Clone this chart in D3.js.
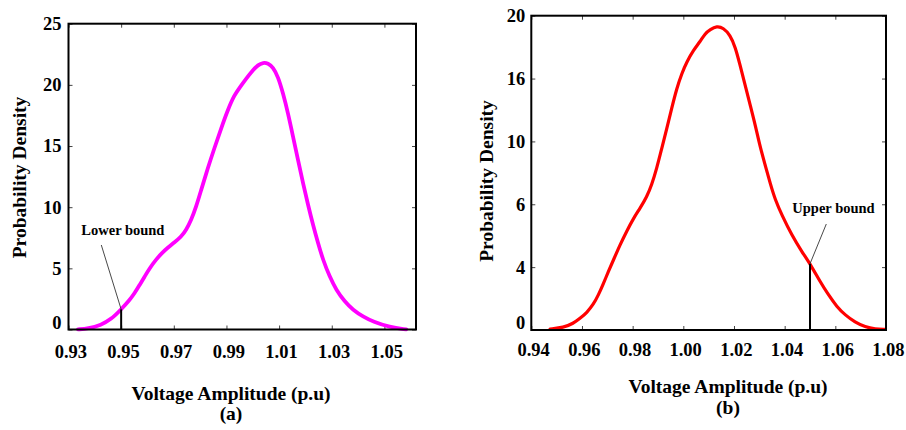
<!DOCTYPE html>
<html>
<head>
<meta charset="utf-8">
<script src="https://cdn.jsdelivr.net/npm/d3@7/dist/d3.min.js"></script>
<style>
  html, body { margin: 0; padding: 0; background: #fff; }
  svg { display: block; }
  text { font-family: "Liberation Serif", "Times New Roman", serif; font-weight: bold; fill: #000; }
</style>
</head>
<body>
<svg id="chart" width="906" height="430"></svg>
<script>
// ---- (a) voltage distribution, lower-bound case ----
const voltA = [0.9336, 0.9374, 0.9424, 0.9462, 0.9500, 0.9532, 0.9551, 0.9570, 0.9589, 0.9608,
               0.9633, 0.9658, 0.9677, 0.9703, 0.9728, 0.9747, 0.9766, 0.9785, 0.9804, 0.9829,
               0.9854, 0.9880, 0.9905, 0.9930, 0.9951, 0.9976, 1.0001, 1.0020, 1.0039, 1.0058,
               1.0077, 1.0096, 1.0115, 1.0134, 1.0153, 1.0172, 1.0191, 1.0210, 1.0229, 1.0248,
               1.0267, 1.0292, 1.0317, 1.0349, 1.0381, 1.0419, 1.0457, 1.0520, 1.0583];
const densA = [0.01, 0.07, 0.37, 0.83, 1.65, 2.41, 2.96, 3.64, 4.32, 5.00,
               5.74, 6.31, 6.69, 7.13, 7.59, 8.14, 8.95, 10.04, 11.41, 13.18,
               14.82, 16.45, 17.95, 19.17, 19.80, 20.54, 21.22, 21.63, 21.82, 21.77,
               21.44, 20.67, 19.31, 17.67, 15.76, 13.85, 11.95, 10.18, 8.54, 7.05,
               5.68, 4.32, 3.23, 2.28, 1.59, 1.05, 0.64, 0.18, 0.01];
const xTicksA = [0.93, 0.95, 0.97, 0.99, 1.01, 1.03, 1.05];
const yTicksA = [0, 5, 10, 15, 20, 25];
const boundA = 0.95;

// ---- (b) voltage distribution, upper-bound case ----
const voltB = [0.9474, 0.9527, 0.9566, 0.9592, 0.9619, 0.9645, 0.9665, 0.9685, 0.9704, 0.9724,
               0.9750, 0.9777, 0.9803, 0.9829, 0.9856, 0.9875, 0.9895, 0.9915, 0.9935, 0.9954,
               0.9974, 0.9994, 1.0014, 1.0040, 1.0066, 1.0086, 1.0106, 1.0132, 1.0158, 1.0185,
               1.0205, 1.0224, 1.0244, 1.0264, 1.0284, 1.0303, 1.0323, 1.0343, 1.0363, 1.0389,
               1.0428, 1.0468, 1.0505, 1.0540, 1.0573, 1.0606, 1.0639, 1.0678, 1.0718, 1.0757,
               1.0797];
const densB = [0.06, 0.15, 0.42, 0.74, 1.10, 1.63, 2.23, 2.97, 3.71, 4.45,
               5.41, 6.30, 7.10, 7.74, 8.48, 9.22, 10.28, 11.56, 12.83, 14.10,
               15.37, 16.33, 17.07, 17.81, 18.34, 18.87, 19.12, 19.34, 19.23, 18.77,
               18.02, 16.86, 15.59, 14.31, 13.04, 11.66, 10.50, 9.33, 8.27, 7.32,
               6.04, 4.98, 4.09, 3.07, 2.23, 1.48, 0.95, 0.49, 0.19, 0.06,
               0.04];
const xTicksB = [0.94, 0.96, 0.98, 1.00, 1.02, 1.04, 1.06, 1.08];
const yTicksB = [0, 4, 8, 12, 16, 20];
const yTickLabelsB = ["0", "4", "6", "10", "16", "20"];
const boundB = 1.05;

const svg = d3.select("#chart");

// density value at v by linear interpolation between samples
function densityAt(xs, ys, v) {
  const i = d3.bisectLeft(xs, v);
  if (i <= 0) return ys[0];
  if (i >= xs.length) return ys[ys.length - 1];
  const t = (v - xs[i - 1]) / (xs[i] - xs[i - 1]);
  return ys[i - 1] + t * (ys[i] - ys[i - 1]);
}

function panel(cfg) {
  const { box, xDomain, yDomain, xs, ys, color, width, xTicks, xFmt, yTicks, yFmt,
          xPad, yPad, bound, label, labelPos, leaderOff, yTitle, xTitle, sub } = cfg;
  const x = d3.scaleLinear().domain(xDomain).range([box.l, box.r]);
  const y = d3.scaleLinear().domain(yDomain).range([box.b, box.t]);
  const g = svg.append("g");
  const tickLen = 4;

  // bottom axis with labels, ticks pointing inward
  const gx = g.append("g").attr("transform", `translate(0,${box.b})`)
    .call(d3.axisBottom(x).tickValues(xTicks).tickFormat(xFmt)
      .tickSizeInner(-tickLen).tickSizeOuter(0).tickPadding(xPad));
  gx.select(".domain").remove();
  gx.selectAll("text").style("font-size", "18.5px").attr("dx", "0.1em");
  // top mirror ticks
  const gxt = g.append("g").attr("transform", `translate(0,${box.t})`)
    .call(d3.axisTop(x).tickValues(xTicks).tickFormat("").tickSizeInner(-tickLen).tickSizeOuter(0));
  gxt.select(".domain").remove();

  // left axis with labels
  const gy = g.append("g").attr("transform", `translate(${box.l},0)`)
    .call(d3.axisLeft(y).tickValues(yTicks).tickFormat(yFmt)
      .tickSizeInner(-tickLen).tickSizeOuter(0).tickPadding(yPad));
  gy.select(".domain").remove();
  gy.selectAll("text").style("font-size", "18.5px")
    .attr("y", d => d === 0 ? -7 : 0);
  // right mirror ticks
  const gyr = g.append("g").attr("transform", `translate(${box.r},0)`)
    .call(d3.axisRight(y).tickValues(yTicks).tickFormat("").tickSizeInner(-tickLen).tickSizeOuter(0));
  gyr.select(".domain").remove();
  g.selectAll(".tick line").attr("stroke", "#444").attr("stroke-width", 1);

  // density curve
  const pts = xs.map((v, i) => [v, ys[i]]);
  g.append("path").datum(pts)
    .attr("fill", "none").attr("stroke", color).attr("stroke-width", width)
    .attr("stroke-linejoin", "round").attr("stroke-linecap", "round")
    .attr("d", d3.line().x(d => x(d[0])).y(d => y(d[1])).curve(d3.curveBasis));

  // bound marker and annotation
  const by = densityAt(xs, ys, bound);
  g.append("line").attr("x1", x(bound)).attr("x2", x(bound))
    .attr("y1", y(by)).attr("y2", box.b)
    .attr("stroke", "#000").attr("stroke-width", 2);
  g.append("line").attr("x1", labelPos[0] + leaderOff[0]).attr("y1", labelPos[1] + leaderOff[1])
    .attr("x2", x(bound)).attr("y2", y(by))
    .attr("stroke", "#333").attr("stroke-width", 0.9);
  g.append("text").attr("x", labelPos[0]).attr("y", labelPos[1])
    .style("font-size", "14.5px").text(label);

  // frame
  g.append("rect").attr("x", box.l).attr("y", box.t)
    .attr("width", box.r - box.l).attr("height", box.b - box.t)
    .attr("fill", "none").attr("stroke", "#000").attr("stroke-width", 2);

  // titles
  g.append("text").attr("transform", `translate(${yTitle[0]},${yTitle[1]}) rotate(-90)`)
    .attr("text-anchor", "middle").style("font-size", "19.5px").text("Probability Density");
  g.append("text").attr("x", xTitle[0]).attr("y", xTitle[1])
    .attr("text-anchor", "middle").style("font-size", "19.5px").text("Voltage Amplitude (p.u)");
  g.append("text").attr("x", sub[0]).attr("y", sub[1])
    .attr("text-anchor", "middle").style("font-size", "19.5px").text(sub[2]);
}

panel({
  box: { l: 68.5, r: 416, t: 23.7, b: 329.5 },
  xDomain: [0.93, 1.062], yDomain: [0, 25],
  xs: voltA, ys: densA, color: "#ff00ff", width: 3.8,
  xTicks: xTicksA, xFmt: d3.format(".2f"), yTicks: yTicksA, yFmt: d3.format("d"),
  xPad: 15, yPad: 7,
  bound: boundA, label: "Lower bound", labelPos: [81.3, 235], leaderOff: [20, 10],
  yTitle: [26, 177.5], xTitle: [231, 400], sub: [231, 420, "(a)"]
});

panel({
  box: { l: 531.3, r: 886, t: 15.7, b: 330 },
  xDomain: [0.94, 1.08], yDomain: [0, 20],
  xs: voltB, ys: densB, color: "#ff0000", width: 3.2,
  xTicks: xTicksB, xFmt: d3.format(".2f"), yTicks: yTicksB,
  yFmt: d => yTickLabelsB[yTicksB.indexOf(d)],
  xPad: 13, yPad: 6,
  bound: boundB, label: "Upper bound", labelPos: [792.3, 213], leaderOff: [34, 11],
  yTitle: [493, 181], xTitle: [728, 393], sub: [728, 414, "(b)"]
});
</script>
</body>
</html>
